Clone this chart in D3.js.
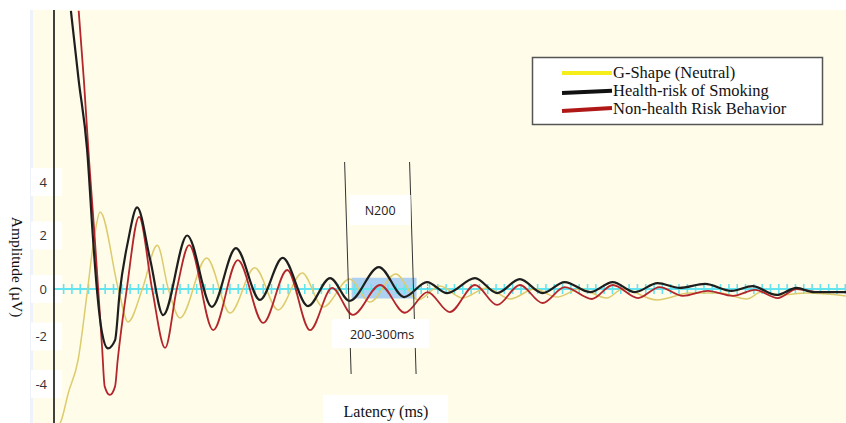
<!DOCTYPE html>
<html><head><meta charset="utf-8">
<script src="https://cdn.jsdelivr.net/npm/d3@7"></script>
<style>html,body{margin:0;padding:0;background:#fff;} svg{display:block}</style>
</head><body><svg id="c" width="846" height="423"></svg>
<script>
// ---------- data ----------
const seriesNames = ["G-Shape (Neutral)", "Health-risk of Smoking", "Non-health Risk Behavior"];
const yTicks = [4, 2, 0, -2, -4];
const windowMs = [200, 300];
const windowLabel = "N200";
const windowRangeLabel = "200-300ms";
const xTitle = "Latency (ms)";
const yTitle = "Amplitude (µV)";

// G-Shape (Neutral)
const neutralT = [-254,-244,-233,-218,-204,-193,-184,-156,-141,-119,-96,-79,-61,-20,16,54,90,127,159,200,231,271,305,339,374,411,447,485,519,554,596,620,673,724,770,811,834,862,904,964];
const neutralV = [-5.9,-5.55,-4.38,-3.0,-0.17,1.94,2.88,0,-1.39,0,1.64,0,-1.22,1.16,-1.01,0.79,-0.88,0.6,-0.76,0.37,-0.55,0.56,-0.46,0.11,-0.38,0.04,-0.42,0,-0.34,0,-0.38,0,-0.46,-0.17,-0.17,-0.42,-0.13,-0.25,-0.17,-0.29];
// Health-risk of Smoking
const smokingT = [-229,-217,-204,-195,-189,-181,-172,-161,-154,-141,-127,-107,-87,-50,-12,25,62,97,136,170,200,245,284,319,350,393,427,462,497,531,570,605,639,674,708,747,788,820,857,888,913,964];
const smokingV = [10.4,7.8,5.2,1.9,0,-1.85,-2.5,-2.15,-0.17,1.8,3.05,1.1,-1.1,2.0,-0.75,1.53,-0.46,1.16,-0.72,0.41,-0.5,0.82,-0.34,0.26,-0.17,0.41,-0.17,0.37,-0.17,0.26,-0.13,0.26,-0.13,0.22,0.04,0.19,-0.08,0.11,-0.25,0.04,-0.13,-0.13];
// Non-health Risk Behavior
const riskT = [-217,-209,-201,-192,-187,-181,-177,-169,-161,-157,-143,-124,-104,-84,-66,-47,-10,28,67,104,139,173,205,247,285,320,354,393,427,462,497,531,573,605,644,677,713,751,790,824,859,888,924,964];
const riskV = [10.4,7.8,4.8,1.8,0,-2.45,-4.1,-4.46,-4.1,-3.0,0,2.7,0,-2.48,0,1.64,-1.73,1.08,-1.43,0.71,-1.73,0.04,-1.09,0.15,-1.0,-0.13,-0.97,0.15,-0.67,0.15,-0.59,0.07,-0.42,0.15,-0.38,0.07,-0.29,-0.08,-0.29,-0.04,-0.38,0,-0.13,-0.13];

// ---------- styles ----------
const curveColors = ["#ddcb6e", "#1e1e1e", "#b3262c"];
const legendColors = ["#f5ee1a", "#111111", "#b01818"];
const curveWidths = [1.5, 2.2, 1.8];
const serif = "'Liberation Serif','Times New Roman',serif";
const sans = "'Open Sans','Noto Sans',sans-serif";

const W = 846, H = 423;
const plot = {left: 54, top: 10, right: 846, bottom: 423};
const svg = d3.select("#c");

const x = d3.scaleLinear().domain([-255, 964]).range([plot.left, plot.right]);
const y = d3.scaleLinear().domain([-4, 0, 4]).range([384, 289, 182]);

// background
svg.append("rect").attr("x", 0).attr("y", 0).attr("width", W).attr("height", H).attr("fill", "#ffffff");
svg.append("rect").attr("x", 30).attr("y", plot.top).attr("width", W - 30).attr("height", H - plot.top).attr("fill", "#fffde9");
svg.append("rect").attr("x", 30).attr("y", plot.top).attr("width", 3).attr("height", H - plot.top).attr("fill", "#eef3fb");

// white boxes behind tick labels
svg.append("g").selectAll("rect").data(yTicks).join("rect")
  .attr("x", 31).attr("width", 31)
  .attr("y", d => y(d) - 14).attr("height", 28)
  .attr("fill", "#ffffff");

const series = [
  {name: seriesNames[0], t: neutralT, v: neutralV, i: 0},
  {name: seriesNames[2], t: riskT, v: riskV, i: 2},
  {name: seriesNames[1], t: smokingT, v: smokingV, i: 1}
];

// N200 window shading
svg.append("rect")
  .attr("x", x(windowMs[0]) + 2).attr("width", x(windowMs[1]) - x(windowMs[0]))
  .attr("y", y(0.42)).attr("height", y(-0.4) - y(0.42))
  .attr("fill", "#9fcaf2").attr("opacity", 0.85);

// zero line with cyan ticks
const zeroAxis = d3.axisBottom(x)
  .tickValues(d3.range(-241, 964, 12.8))
  .tickSize(10).tickFormat("");
const zg = svg.append("g").attr("transform", `translate(0,${y(0) - 5})`).call(zeroAxis);
zg.select(".domain").remove();
zg.selectAll(".tick line").attr("stroke", "#63e4ee").attr("stroke-width", 1.6);
svg.append("line").attr("x1", plot.left).attr("x2", plot.right).attr("y1", y(0)).attr("y2", y(0))
  .attr("stroke", "#63e4ee").attr("stroke-width", 2.2);

// small dashed marker
const markerMs = 320;
svg.append("line").attr("x1", x(markerMs)).attr("x2", x(markerMs))
  .attr("y1", y(0.3)).attr("y2", y(-0.4))
  .attr("stroke", "#999").attr("stroke-width", 1).attr("stroke-dasharray", "2,1");

// curves
svg.append("clipPath").attr("id", "clip").append("rect")
  .attr("x", plot.left).attr("y", plot.top).attr("width", plot.right - plot.left).attr("height", plot.bottom - plot.top);
const line = d3.line().x(d => x(d[0])).y(d => y(d[1])).curve(d3.curveMonotoneX);
svg.append("g").attr("clip-path", "url(#clip)").selectAll("path").data(series).join("path")
  .attr("d", s => line(s.t.map((t, k) => [t, s.v[k]])))
  .attr("fill", "none")
  .attr("stroke", s => curveColors[s.i])
  .attr("stroke-width", s => curveWidths[s.i])
  .attr("stroke-linejoin", "round");

// y axis
const yAxis = d3.axisLeft(y).tickValues(yTicks).tickSize(0).tickPadding(6).tickFormat(d3.format("d"));
const yg = svg.append("g").attr("transform", `translate(${plot.left - 1},0)`).call(yAxis);
yg.select(".domain").remove();
yg.selectAll(".tick text").attr("font-family", sans).attr("font-size", 13).attr("fill", "#333").text(d => d < 0 ? "-" + Math.abs(d) : d);
svg.append("line").attr("x1", plot.left).attr("x2", plot.left).attr("y1", plot.top).attr("y2", H)
  .attr("stroke", "#111").attr("stroke-width", 1.6);

// y title
svg.append("text").attr("transform", `translate(12,267) rotate(90)`)
  .attr("text-anchor", "middle").attr("font-family", serif).attr("font-size", 15.5).attr("fill", "#111")
  .text(yTitle);

// N200 window boundary lines
svg.append("g").selectAll("line").data(windowMs).join("line")
  .attr("x1", d => x(d) - 5).attr("y1", 162)
  .attr("x2", d => x(d) + 1.5).attr("y2", 374)
  .attr("stroke", "#333").attr("stroke-width", 1);

// N200 label
const midMs = (windowMs[0] + windowMs[1]) / 2;
svg.append("rect").attr("x", x(windowMs[0])).attr("y", 195).attr("width", x(windowMs[1]) - x(windowMs[0]) - 4).attr("height", 30).attr("fill", "#fff");
svg.append("text").attr("x", x(midMs) - 2).attr("y", 210).attr("dominant-baseline", "central")
  .attr("text-anchor", "middle").attr("font-family", sans).attr("font-size", 12.5).attr("fill", "#222").text(windowLabel);
svg.append("rect").attr("x", 332).attr("y", 319).attr("width", 97).attr("height", 29).attr("fill", "#fff");
svg.append("text").attr("x", x(midMs)).attr("y", 334).attr("dominant-baseline", "central")
  .attr("text-anchor", "middle").attr("font-family", sans).attr("font-size", 12.5).attr("fill", "#222").text(windowRangeLabel);

// x title
svg.append("rect").attr("x", 323).attr("y", 395).attr("width", 125).attr("height", 28).attr("fill", "#fff");
svg.append("text").attr("x", 386).attr("y", 411).attr("dominant-baseline", "central")
  .attr("text-anchor", "middle").attr("font-family", serif).attr("font-size", 16).attr("fill", "#111").text(xTitle);

// legend
const lg = svg.append("g");
lg.append("rect").attr("x", 532.5).attr("y", 57.5).attr("width", 290).attr("height", 67)
  .attr("fill", "#fff").attr("stroke", "#555").attr("stroke-width", 1.5);
const legY = [73, 91.5, 109];
const legTilt = [0, 1.5, 2];
lg.selectAll("line").data(seriesNames).join("line")
  .attr("x1", 562).attr("x2", 612)
  .attr("y1", (d, i) => legY[i] + legTilt[i]).attr("y2", (d, i) => legY[i] - legTilt[i] / 2)
  .attr("stroke", (d, i) => legendColors[i]).attr("stroke-width", 4);
lg.selectAll("text").data(seriesNames).join("text")
  .attr("x", 613).attr("y", (d, i) => legY[i] - 1).attr("dominant-baseline", "central")
  .attr("font-family", serif).attr("font-size", 16.5).attr("fill", "#111").text(d => d);
</script>
</body></html>
